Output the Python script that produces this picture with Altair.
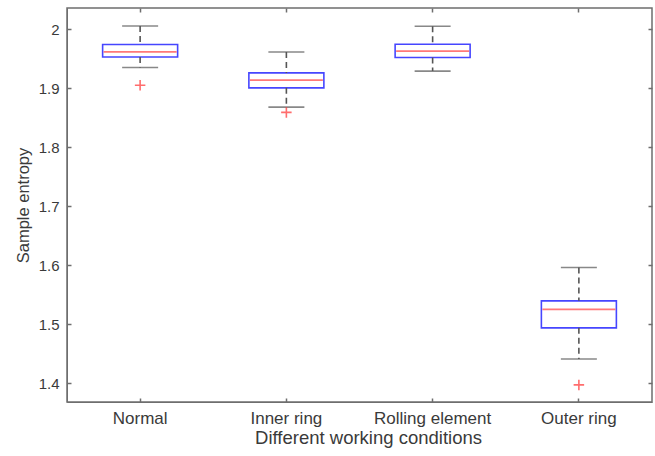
import altair as alt
import pandas as pd

categories = ["Normal", "Inner ring", "Rolling element", "Outer ring"]
lower_whisker = [1.935, 1.868, 1.929, 1.441]
q1 = [1.953, 1.9006, 1.952, 1.4937]
median = [1.9615, 1.9136, 1.963, 1.525]
q3 = [1.974, 1.926, 1.9746, 1.5395]
upper_whisker = [2.0056, 1.9615, 2.005, 1.596]

outlier_cats = ["Normal", "Inner ring", "Outer ring"]
outlier_vals = [1.905, 1.859, 1.397]

y_ticks = [1.4, 1.5, 1.6, 1.7, 1.8, 1.9, 2.0]

W, H = 585, 394

stats = pd.DataFrame({
    "cat": categories,
    "lo": lower_whisker,
    "q1": q1,
    "med": median,
    "q3": q3,
    "hi": upper_whisker,
})
outs = pd.DataFrame({"cat": outlier_cats, "v": outlier_vals})

GRAY = "#6e6e6e"
TXT = "#3a3a3a"
FONT = "Liberation Sans"

xscale = alt.Scale(domain=categories, paddingInner=0, paddingOuter=0)
yscale = alt.Scale(domain=[1.368, 2.036], nice=False, zero=False)

# main axes (labels), bottom + left
x_main = alt.X("cat:N", scale=xscale, sort=categories,
               axis=alt.Axis(orient="bottom", title="Different working conditions",
                             labelAngle=0, ticks=False, domain=True, domainColor=GRAY,
                             labelFontSize=17, labelColor=TXT, labelFont=FONT, labelPadding=8,
                             titleFontSize=18.5, titleColor=TXT, titleFont=FONT, titleFontWeight="normal",
                             titlePadding=2, titleX=301))
y_main = alt.Y("q1:Q", scale=yscale,
               axis=alt.Axis(orient="left", title="Sample entropy", values=y_ticks,
                             format="~g", ticks=False, domain=True, domainColor=GRAY, grid=False,
                             labelFontSize=15, labelColor=TXT, labelFont=FONT, labelPadding=8,
                             titleFontSize=16.5, titleColor=TXT, titleFont=FONT, titleFontWeight="normal",
                             titlePadding=7))

box = alt.Chart(stats).mark_bar(
    size=75, fill="white", fillOpacity=0, stroke="#4646ff", strokeWidth=1.6
).encode(x=x_main, y=y_main, y2="q3:Q")

# inward ticks at bottom + left edges
x_in_bottom = alt.X("cat:N", scale=xscale, sort=categories,
                    axis=alt.Axis(orient="top", offset=-H, labels=False, domain=False, title=None,
                                  ticks=True, tickSize=4, tickColor=GRAY, tickWidth=1.5))
y_in_left = alt.Y("hi:Q", scale=yscale,
                  axis=alt.Axis(orient="right", offset=-W, labels=False, domain=False, title=None,
                                values=y_ticks, grid=False,
                                ticks=True, tickSize=4, tickColor=GRAY, tickWidth=1.5))

whisk_up = alt.Chart(stats).mark_rule(
    color="#555555", strokeWidth=1.6, strokeDash=[6, 4]
).encode(x=x_in_bottom, y=y_in_left, y2="q3:Q")

whisk_dn = alt.Chart(stats).mark_rule(
    color="#555555", strokeWidth=1.6, strokeDash=[6, 4]
).encode(x=alt.X("cat:N", scale=xscale, sort=categories, axis=None),
         y=alt.Y("q1:Q", scale=yscale, axis=None), y2="lo:Q")

# inward ticks at top + right edges
x_in_top = alt.X("cat:N", scale=xscale, sort=categories,
                 axis=alt.Axis(orient="bottom", offset=-H, labels=False, domain=False, title=None,
                               ticks=True, tickSize=4, tickColor=GRAY, tickWidth=1.5))
y_in_right = alt.Y("hi:Q", scale=yscale,
                   axis=alt.Axis(orient="left", offset=-W, labels=False, domain=False, title=None,
                                 values=y_ticks, grid=False,
                                 ticks=True, tickSize=4, tickColor=GRAY, tickWidth=1.5))

cap_hi = alt.Chart(stats).mark_tick(
    size=36, thickness=1.6, color="#555555"
).encode(x=x_in_top, y=y_in_right)

cap_lo = alt.Chart(stats).mark_tick(
    size=36, thickness=1.6, color="#555555"
).encode(x=alt.X("cat:N", scale=xscale, sort=categories, axis=None),
         y=alt.Y("lo:Q", scale=yscale, axis=None))

med = alt.Chart(stats).mark_tick(
    size=73, thickness=1.8, color="#ff4040"
).encode(x=alt.X("cat:N", scale=xscale, sort=categories, axis=None),
         y=alt.Y("med:Q", scale=yscale, axis=None))

out = alt.Chart(outs).mark_point(
    shape="M-1,0L1,0M0,-1L0,1", size=110, stroke="#ff3030", strokeWidth=1.6, filled=False
).encode(x=alt.X("cat:N", scale=xscale, sort=categories, axis=None),
         y=alt.Y("v:Q", scale=yscale, axis=None))

chart = alt.layer(box, whisk_up, whisk_dn, cap_hi, cap_lo, med, out).resolve_scale(
    x="shared", y="shared"
).resolve_axis(
    x="independent", y="independent"
).properties(
    width=W, height=H,
    autosize=alt.AutoSizeParams(type="none"),
    padding={"left": 67, "top": 8, "right": 3, "bottom": 54},
    background="white",
).configure_view(stroke=GRAY, strokeWidth=1.5)

chart.save("out.html", embed_options={"renderer": "svg", "actions": False})
